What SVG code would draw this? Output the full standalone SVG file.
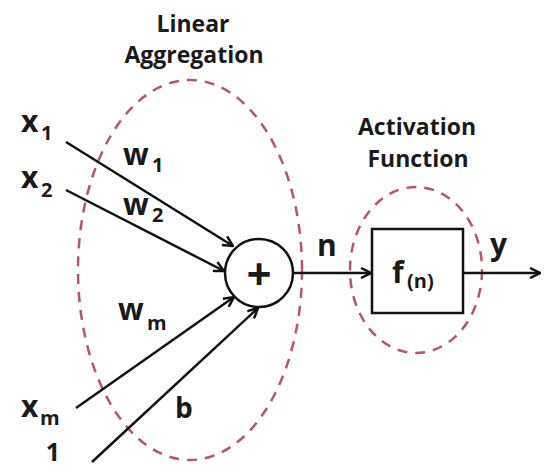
<svg xmlns="http://www.w3.org/2000/svg" width="544" height="468" viewBox="0 0 544 468">
<style>
.t{font-family:"Open Sans","Liberation Sans",sans-serif;font-weight:700;fill:#1a1a1a}
.cap{font-size:23px}
.big{font-size:30px}
.sub{font-size:20px}
.ln{stroke:#111;stroke-width:2.5;fill:none}
.grp{fill:none;stroke:#b5566b;stroke-width:2.5;stroke-dasharray:10 8}
</style>
<defs>
<marker id="arr" viewBox="0 0 12 12" refX="11" refY="6" markerWidth="12" markerHeight="12" markerUnits="userSpaceOnUse" orient="auto">
<path d="M1,1 L11,6 L1,11" fill="none" stroke="#111" stroke-width="2.5"/>
</marker>
</defs>
<rect width="544" height="468" fill="#fff"/>
<g id="linear-aggregation">
<ellipse class="grp" cx="190" cy="270" rx="112" ry="190"/>
<text class="t cap" x="193" y="32" text-anchor="middle">Linear</text>
<text class="t cap" x="194" y="63" text-anchor="middle">Aggregation</text>
</g>
<g id="activation-function">
<ellipse class="grp" cx="416" cy="270" rx="66" ry="83"/>
<text class="t cap" x="417" y="135" text-anchor="middle">Activation</text>
<text class="t cap" x="418" y="167" text-anchor="middle">Function</text>
</g>
<g id="connectors">
<line class="ln" x1="66" y1="142" x2="233" y2="246" marker-end="url(#arr)"/>
<line class="ln" x1="66" y1="190" x2="224" y2="271" marker-end="url(#arr)"/>
<line class="ln" x1="76" y1="408" x2="234" y2="297" marker-end="url(#arr)"/>
<line class="ln" x1="92" y1="462" x2="258" y2="308" marker-end="url(#arr)"/>
<line class="ln" x1="293" y1="273" x2="371" y2="273" marker-end="url(#arr)"/>
<line class="ln" x1="463" y1="273" x2="540" y2="273" marker-end="url(#arr)"/>
</g>
<g id="x1"><text class="t big" x="21" y="132">x<tspan class="sub" x="41" y="140">1</tspan></text></g>
<g id="x2"><text class="t big" x="21" y="188">x<tspan class="sub" x="41" y="197">2</tspan></text></g>
<g id="xm"><text class="t big" x="21" y="417">x<tspan class="sub" x="40" y="425">m</tspan></text></g>
<g id="one"><text class="t" font-size="25" x="53" y="461" text-anchor="middle">1</text></g>
<g id="w1"><text class="t big" x="123" y="165">w<tspan class="sub" x="152" y="172">1</tspan></text></g>
<g id="w2"><text class="t big" x="123" y="215">w<tspan class="sub" x="152" y="222">2</tspan></text></g>
<g id="wm"><text class="t big" x="118" y="320">w<tspan class="sub" x="147" y="330">m</tspan></text></g>
<g id="b"><text class="t" font-size="28" x="175" y="418">b</text></g>
<g id="sum">
<circle cx="259" cy="273" r="34" fill="#fff" stroke="#111" stroke-width="2.5"/>
<text class="t" font-size="44" x="259" y="290" text-anchor="middle">+</text>
</g>
<g id="n"><text class="t big" x="317" y="256">n</text></g>
<g id="f">
<rect x="372" y="229" width="91" height="84" fill="#fff" stroke="#111" stroke-width="2.5"/>
<text class="t big" x="392" y="283">f<tspan class="sub" x="407" y="288">(n)</tspan></text>
</g>
<g id="y"><text class="t big" x="490" y="255">y</text></g>
</svg>
